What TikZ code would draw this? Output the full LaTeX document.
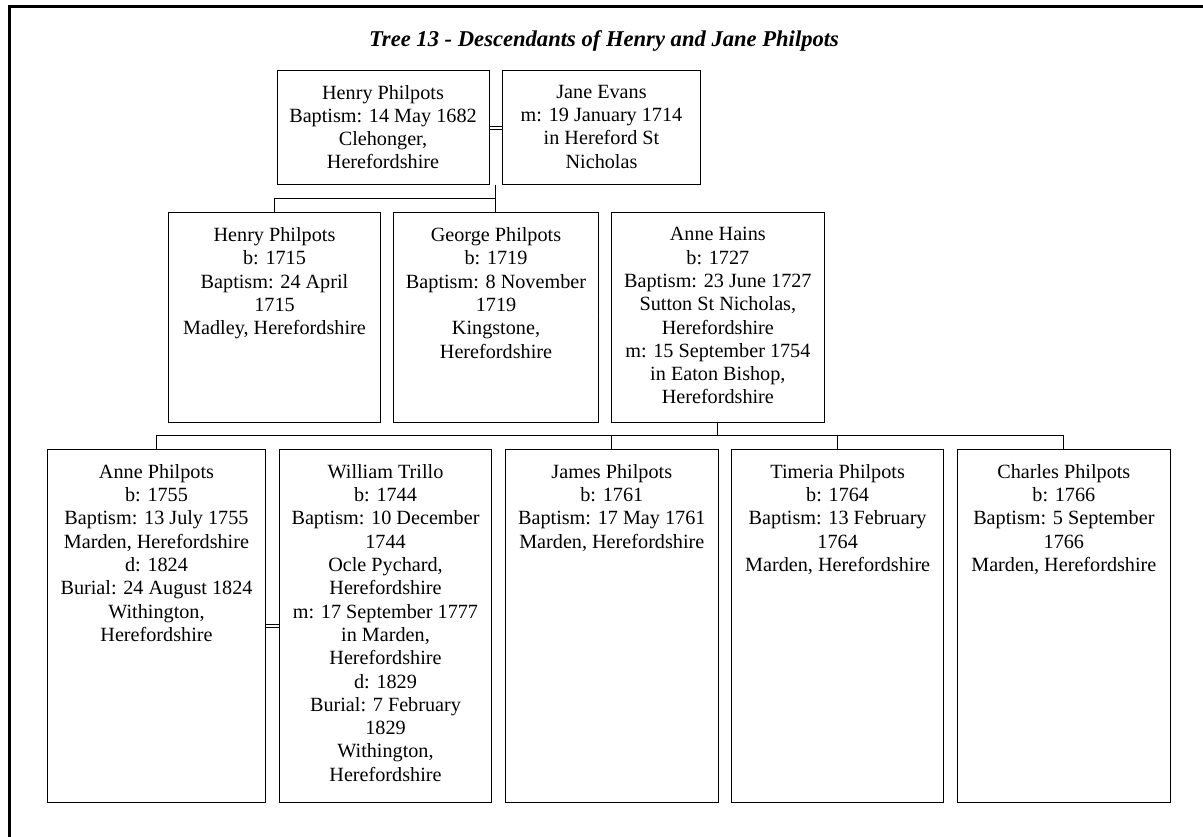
\documentclass[tikz,border=0pt]{standalone}
\usepackage{fontspec}
\setmainfont{Liberation Serif}
\usetikzlibrary{calc}

\tikzset{
  pbox/.style={draw=black, line width=1pt, fill=white, inner sep=0pt, anchor=north west},
  ptext/.style={anchor=north, align=center, inner sep=0pt,
    font=\fontsize{20.2}{23.3}\selectfont},
  link/.style={draw=black, line width=1pt},
  wed/.style={draw=black, line width=0.9pt, double=white, double distance=2.1pt},
  frame/.style={draw=black, line width=3.8pt},
  heading/.style={font=\fontsize{22.6}{27}\selectfont\bfseries\itshape, inner sep=0pt}
}

% \person{name}{left}{top}{right}{bottom}{text}
\newcommand{\person}[6]{%
  \node[pbox, minimum width={(#4)-(#2)}, minimum height={(#5)-(#3)}] (#1) at (#2,#3) {};
  \node[ptext] (#1-t) at ([yshift=-14.8pt]#1.north) {#6};
}

\begin{document}
\begin{tikzpicture}[x=1pt, y=-1pt]
  \useasboundingbox (0,0) rectangle (1203,837);
  \clip (0,0) rectangle (1203,837);
  \fill[white] (0,0) rectangle (1203,837);

  % outer frame (left and top edges)
  \draw[frame] (9.5,900) -- (9.5,6.5) -- (1300,6.5);

  \node[heading] (title) at (604,41) {Tree 13 - Descendants of Henry and Jane Philpots};

  % generation 1
  \person{hpa}{276.5}{70}{488.5}{184.5}{Henry Philpots\\Baptism: 14 May 1682\\Clehonger,\\Herefordshire}
  \person{je}{502}{70}{700}{184.5}{Jane Evans\\m: 19 January 1714\\in Hereford St\\Nicholas}

  % generation 2
  \person{hpb}{168}{212.5}{380}{421.5}{Henry Philpots\\b: 1715\\Baptism: 24 April\\1715\\Madley, Herefordshire}
  \person{gp}{393.3}{212.5}{597.7}{421.5}{George Philpots\\b: 1719\\Baptism: 8 November\\1719\\Kingstone,\\Herefordshire}
  \person{ah}{611}{212.5}{823.7}{421.5}{Anne Hains\\b: 1727\\Baptism: 23 June 1727\\Sutton St Nicholas,\\Herefordshire\\m: 15 September 1754\\in Eaton Bishop,\\Herefordshire}

  % generation 3
  \person{ap}{47.3}{449.3}{264.7}{802}{Anne Philpots\\b: 1755\\Baptism: 13 July 1755\\Marden, Herefordshire\\d: 1824\\Burial: 24 August 1824\\Withington,\\Herefordshire}
  \person{wt}{278.7}{449.3}{491.3}{802}{William Trillo\\b: 1744\\Baptism: 10 December\\1744\\Ocle Pychard,\\Herefordshire\\m: 17 September 1777\\in Marden,\\Herefordshire\\d: 1829\\Burial: 7 February\\1829\\Withington,\\Herefordshire}
  \person{jp}{505}{449.3}{717.6}{802}{James Philpots\\b: 1761\\Baptism: 17 May 1761\\Marden, Herefordshire}
  \person{tp}{731}{449.3}{943.3}{802}{Timeria Philpots\\b: 1764\\Baptism: 13 February\\1764\\Marden, Herefordshire}
  \person{ch}{957}{449.3}{1169.7}{802}{Charles Philpots\\b: 1766\\Baptism: 5 September\\1766\\Marden, Herefordshire}

  % marriages
  \draw[wed] (hpa.east) -- (je.west);
  \draw[wed] (gp.east) -- (ah.west);
  \draw[wed] (ap.east) -- (wt.west);

  % children of Henry and Jane
  \coordinate (fam1) at ($(hpa.south east)!0.5!(je.south west)$);
  \coordinate (bar1) at (0,199);
  \draw[link] (fam1) -- (fam1 |- gp.north);
  \draw[link] (hpb.north) -- (hpb.north |- bar1) -- (fam1 |- bar1);

  % children of George and Anne
  \coordinate (bar2) at (0,435.5);
  \draw[link] (ah.south) -- (ah.south |- bar2);
  \draw[link] (ap.north) -- (ap.north |- bar2) -- (ch.north |- bar2) -- (ch.north);
  \draw[link] (jp.north |- bar2) -- (jp.north);
  \draw[link] (tp.north |- bar2) -- (tp.north);
\end{tikzpicture}
\end{document}
